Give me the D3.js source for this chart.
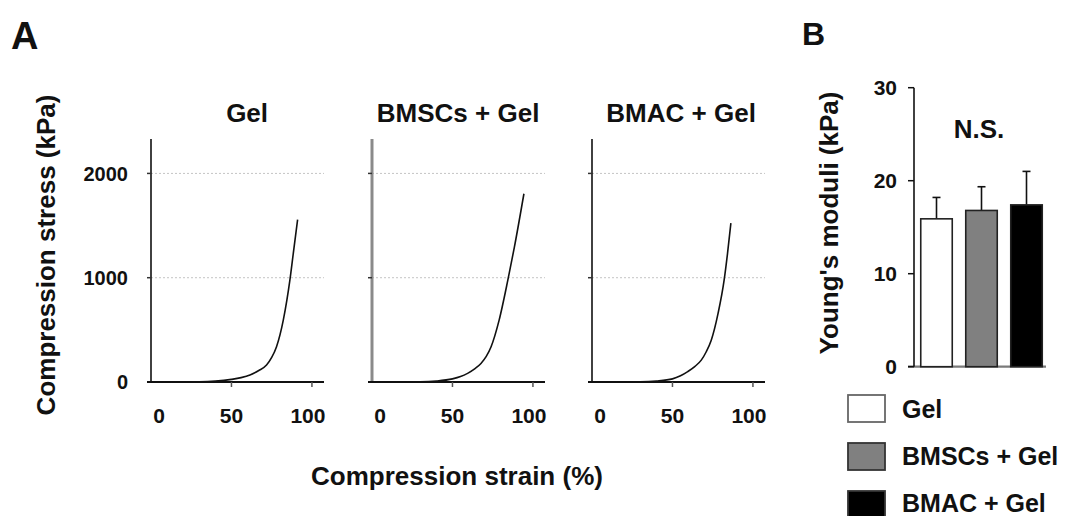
<!DOCTYPE html>
<html>
<head>
<meta charset="utf-8">
<script src="https://cdn.jsdelivr.net/npm/d3@7"></script>
<style>
  body { margin: 0; background: #fff; }
  svg text { font-family: "Liberation Sans", Arial, sans-serif; font-weight: bold; fill: #111; }
</style>
</head>
<body>
<svg id="fig" width="1067" height="516"></svg>
<script>
// panel A: stress-strain curves
var groups = ["Gel", "BMSCs + Gel", "BMAC + Gel"];
var gelStrain = [0, 30, 40, 50, 56, 61.5, 67, 71.8, 75, 78, 82.2, 86.3, 88.4, 91.1];
var gelStress = [0, 2, 8, 25, 42, 67, 110, 163, 235, 338, 593, 976, 1231, 1557];
var bmscStrain = [0, 30, 40, 50, 55, 59.4, 64, 67.7, 71, 74, 79, 84.4, 88.5, 94.4];
var bmscStress = [0, 2, 9, 30, 52, 83, 128, 178, 245, 338, 593, 976, 1295, 1805];
var bmacStrain = [0, 30, 40, 50, 55, 59.5, 64, 67.9, 71, 74.1, 78.3, 82.1, 84.2, 86.3];
var bmacStress = [0, 2, 9, 30, 60, 100, 150, 210, 290, 400, 655, 976, 1231, 1524];
var strainTicks = [0, 50, 100];
var stressTicks = [0, 1000, 2000];

// panel B: Young's moduli, mean and upper error
var moduli = [15.9, 16.8, 17.4];
var moduliErr = [2.3, 2.55, 3.6];
var moduliTicks = [0, 10, 20, 30];
var barFill = ["#ffffff", "#808080", "#000000"];

var svg = d3.select("#fig");

var curves = [
  {strain: gelStrain, stress: gelStress},
  {strain: bmscStrain, stress: bmscStress},
  {strain: bmacStrain, stress: bmacStress}
];

var panelLeft = [151, 372, 592];
var x = d3.scaleLinear().domain([0, 107.5]).range([0, 173]);
var y = d3.scaleLinear().domain([0, 2330]).range([382, 139]);

svg.append("text").text("A").attr("x", 11).attr("y", 49).style("font-size", "38px");
svg.append("text").text("B").attr("x", 802).attr("y", 45).style("font-size", "32px");

curves.forEach(function(c, i) {
  var g = svg.append("g").attr("transform", "translate(" + panelLeft[i] + ",0)");

  // dotted gridlines
  g.selectAll("line.grid")
    .data(stressTicks.slice(1))
    .enter().append("line")
    .attr("x1", 0).attr("x2", x(107.5))
    .attr("y1", d => y(d)).attr("y2", d => y(d))
    .attr("stroke", "#c4c4c4").attr("stroke-width", 1)
    .attr("stroke-dasharray", "2,2");

  // y axis
  g.append("line")
    .attr("x1", 0).attr("x2", 0)
    .attr("y1", y(2330)).attr("y2", y(0))
    .attr("stroke", i === 1 ? "#8a8a8a" : "#111")
    .attr("stroke-width", i === 1 ? 3 : 1.6);
  g.selectAll("line.ytick")
    .data(stressTicks)
    .enter().append("line")
    .attr("x1", -4).attr("x2", 0)
    .attr("y1", d => y(d)).attr("y2", d => y(d))
    .attr("stroke", "#333").attr("stroke-width", 1.5);

  if (i === 0) {
    g.selectAll("text.ylab")
      .data(stressTicks)
      .enter().append("text")
      .attr("x", -23).attr("y", d => y(d))
      .attr("dy", "0.36em")
      .attr("text-anchor", "end")
      .style("font-size", "20px")
      .text(d => d);
  }

  // x axis
  g.append("line")
    .attr("x1", -4).attr("x2", x(107.5))
    .attr("y1", y(0)).attr("y2", y(0))
    .attr("stroke", "#111").attr("stroke-width", 1.8);
  g.selectAll("line.xtick")
    .data(strainTicks.slice(1))
    .enter().append("line")
    .attr("x1", d => x(d)).attr("x2", d => x(d))
    .attr("y1", y(0)).attr("y2", y(0) + 5)
    .attr("stroke", "#555").attr("stroke-width", 1.5);
  g.selectAll("text.xlab")
    .data(strainTicks)
    .enter().append("text")
    .attr("x", d => x(d) + (d === 0 ? 8 : d === 100 ? -4 : 0))
    .attr("y", 423)
    .attr("text-anchor", "middle")
    .style("font-size", "21px")
    .text(d => d);

  // curve
  var pts = c.strain.map((s, k) => [s, c.stress[k]]);
  g.append("path")
    .datum(pts)
    .attr("fill", "none")
    .attr("stroke", "#111")
    .attr("stroke-width", 1.6)
    .attr("d", d3.line().x(d => x(d[0])).y(d => y(d[1])).curve(d3.curveMonotoneX));

  // title
  g.append("text")
    .attr("x", x(53.5) + (i === 0 ? 10 : i === 2 ? 3 : 0))
    .attr("y", 122)
    .attr("text-anchor", "middle")
    .style("font-size", "26px")
    .text(groups[i]);
});

svg.append("text")
  .attr("transform", "translate(55,255) rotate(-90)")
  .attr("text-anchor", "middle")
  .style("font-size", "26px")
  .text("Compression stress (kPa)");

svg.append("text")
  .attr("x", 457).attr("y", 485)
  .attr("text-anchor", "middle")
  .style("font-size", "26px")
  .text("Compression strain (%)");

// panel B bars
var yb = d3.scaleLinear().domain([0, 30]).range([366.7, 87.7]);
var xb = d3.scaleBand().domain(groups).range([914, 1049]).paddingInner(0.3).paddingOuter(0.15);
var gb = svg.append("g");

gb.append("line")
  .attr("x1", 908).attr("x2", 1046)
  .attr("y1", yb(0)).attr("y2", yb(0))
  .attr("stroke", "#7a7a7a").attr("stroke-width", 2.2);

gb.selectAll("line.err")
  .data(groups)
  .enter().append("line")
  .attr("x1", d => xb(d) + xb.bandwidth() / 2)
  .attr("x2", d => xb(d) + xb.bandwidth() / 2)
  .attr("y1", (d, k) => yb(moduli[k]))
  .attr("y2", (d, k) => yb(moduli[k] + moduliErr[k]))
  .attr("stroke", "#111").attr("stroke-width", 1.6);
gb.selectAll("line.cap")
  .data(groups)
  .enter().append("line")
  .attr("x1", d => xb(d) + xb.bandwidth() / 2 - 4)
  .attr("x2", d => xb(d) + xb.bandwidth() / 2 + 4)
  .attr("y1", (d, k) => yb(moduli[k] + moduliErr[k]))
  .attr("y2", (d, k) => yb(moduli[k] + moduliErr[k]))
  .attr("stroke", "#111").attr("stroke-width", 1.6);

gb.selectAll("rect.bar")
  .data(groups)
  .enter().append("rect")
  .attr("x", d => xb(d))
  .attr("width", xb.bandwidth())
  .attr("y", (d, k) => yb(moduli[k]))
  .attr("height", (d, k) => yb(0) - yb(moduli[k]))
  .attr("fill", (d, k) => barFill[k])
  .attr("stroke", "#222").attr("stroke-width", 1.6);

gb.append("line")
  .attr("x1", 914).attr("x2", 914)
  .attr("y1", yb(30)).attr("y2", yb(0))
  .attr("stroke", "#111").attr("stroke-width", 1.6);
gb.selectAll("line.ybt")
  .data(moduliTicks)
  .enter().append("line")
  .attr("x1", 908).attr("x2", 914)
  .attr("y1", d => yb(d)).attr("y2", d => yb(d))
  .attr("stroke", "#111").attr("stroke-width", 1.5);
gb.selectAll("text.ybl")
  .data(moduliTicks)
  .enter().append("text")
  .attr("x", 897).attr("y", d => yb(d))
  .attr("dy", "0.36em")
  .attr("text-anchor", "end")
  .style("font-size", "21px")
  .text(d => d);

gb.append("text")
  .attr("x", 979).attr("y", 138)
  .attr("text-anchor", "middle")
  .style("font-size", "26px")
  .text("N.S.");

svg.append("text")
  .attr("transform", "translate(838,223) rotate(-90)")
  .attr("text-anchor", "middle")
  .style("font-size", "26px")
  .text("Young's moduli (kPa)");

// legend
var lg = svg.append("g");
groups.forEach(function(name, k) {
  lg.append("rect")
    .attr("x", 848).attr("y", 395 + k * 48)
    .attr("width", 37).attr("height", 27)
    .attr("fill", barFill[k])
    .attr("stroke", k === 0 ? "#666" : "#333").attr("stroke-width", 1.8);
  lg.append("text")
    .attr("x", 902).attr("y", 418 + k * 47)
    .style("font-size", "25px")
    .text(name);
});
</script>
</body>
</html>
